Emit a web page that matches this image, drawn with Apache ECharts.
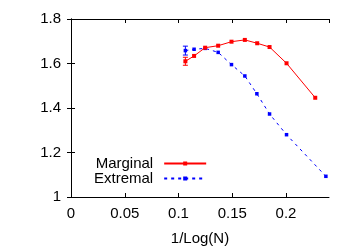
<!DOCTYPE html>
<html><head><meta charset="utf-8">
<script src="https://cdn.jsdelivr.net/npm/echarts@6/dist/echarts.min.js"></script>
<style>html,body{margin:0;padding:0;background:#fff}#c{width:353px;height:247px}</style>
</head><body><div id="c"></div>
<script>
const marginalX = [0.1064, 0.1145, 0.1248, 0.1369, 0.1493, 0.1617, 0.1732, 0.1847, 0.2005, 0.2272];
const marginalY = [1.610, 1.634, 1.671, 1.680, 1.698, 1.706, 1.691, 1.674, 1.601, 1.446];
const marginalErr = [0.018, 0, 0, 0, 0, 0, 0, 0, 0, 0];
const extremalX = [0.1064, 0.1145, 0.1248, 0.1369, 0.1493, 0.1617, 0.1729, 0.1847, 0.2005, 0.2371];
const extremalY = [1.658, 1.664, 1.668, 1.650, 1.595, 1.544, 1.464, 1.373, 1.280, 1.093];
const extremalErr = [0.020, 0, 0, 0, 0, 0, 0, 0, 0, 0];
const seriesNames = ['Marginal', 'Extremal'];
const xAxisTitle = '1/Log(N)';

const FONT = 'Liberation Sans';
const chart = echarts.init(document.getElementById('c'), null, {renderer: 'canvas'});

function pairs(xs, ys) { return xs.map((x, i) => [x, ys[i]]); }
function errData(xs, ys, es) {
  return xs.map((x, i) => [x, ys[i] - es[i], ys[i] + es[i]]).filter((d, i) => es[i] > 0);
}
function errRender(color) {
  return function (params, api) {
    const lo = api.coord([api.value(0), api.value(1)]);
    const hi = api.coord([api.value(0), api.value(2)]);
    const w = 2.5;
    const st = {stroke: color, lineWidth: 1};
    return {type: 'group', children: [
      {type: 'line', shape: {x1: lo[0], y1: lo[1], x2: hi[0], y2: hi[1]}, style: st},
      {type: 'line', shape: {x1: lo[0] - w, y1: lo[1], x2: lo[0] + w, y2: lo[1]}, style: st},
      {type: 'line', shape: {x1: hi[0] - w, y1: hi[1], x2: hi[0] + w, y2: hi[1]}, style: st}
    ]};
  };
}

const axisCommon = {
  axisLine: {show: true, lineStyle: {color: '#000', width: 1}},
  axisTick: {show: true, inside: true, length: 4, lineStyle: {color: '#000'}},
  splitLine: {show: false}
};

chart.setOption({
  animation: false,
  backgroundColor: '#fff',
  grid: {left: 71, right: 24, top: 19, bottom: 50, containLabel: false, outerBoundsMode: 'none'},
  xAxis: [
    Object.assign({type: 'value', min: 0, max: 0.24, interval: 0.05, position: 'bottom',
      name: xAxisTitle, nameLocation: 'middle', nameGap: 34,
      nameTextStyle: {fontFamily: FONT, fontSize: 15, color: '#000'},
      axisLabel: {fontFamily: FONT, fontSize: 15, color: '#000', margin: 9, showMaxLabel: false}}, axisCommon),
    Object.assign({type: 'value', min: 0, max: 0.24, interval: 0.05, position: 'top',
      axisLabel: {show: false}}, axisCommon)
  ],
  yAxis: [
    Object.assign({type: 'value', min: 1, max: 1.8, interval: 0.2, position: 'left',
      axisLabel: {fontFamily: FONT, fontSize: 15, color: '#000', margin: 10}}, axisCommon),
    Object.assign({type: 'value', min: 1, max: 1.8, interval: 0.2, position: 'right',
      axisLabel: {show: false}}, axisCommon)
  ],
  legend: {
    orient: 'vertical', align: 'right', left: 94, top: 156, padding: 0,
    itemWidth: 42, itemHeight: 5, itemGap: 0,
    textStyle: {fontFamily: FONT, fontSize: 15, color: '#000', padding: [0, 6, 0, 0]},
    data: seriesNames
  },
  series: [
    {name: seriesNames[0], type: 'line', data: pairs(marginalX, marginalY),
      symbol: 'rect', symbolSize: 4, color: '#ff0000',
      lineStyle: {color: '#ff0000', width: 1}, itemStyle: {color: '#ff0000'}, z: 3},
    {name: seriesNames[1], type: 'line', data: pairs(extremalX, extremalY),
      symbol: 'rect', symbolSize: 3.5, color: '#0000ff',
      lineStyle: {color: '#0000ff', width: 1, type: [3, 4]}, itemStyle: {color: '#0000ff'}, z: 2},
    {type: 'custom', renderItem: errRender('#ff0000'), data: errData(marginalX, marginalY, marginalErr), z: 3, silent: true},
    {type: 'custom', renderItem: errRender('#0000ff'), data: errData(extremalX, extremalY, extremalErr), z: 2, silent: true}
  ]
});
</script></body></html>
